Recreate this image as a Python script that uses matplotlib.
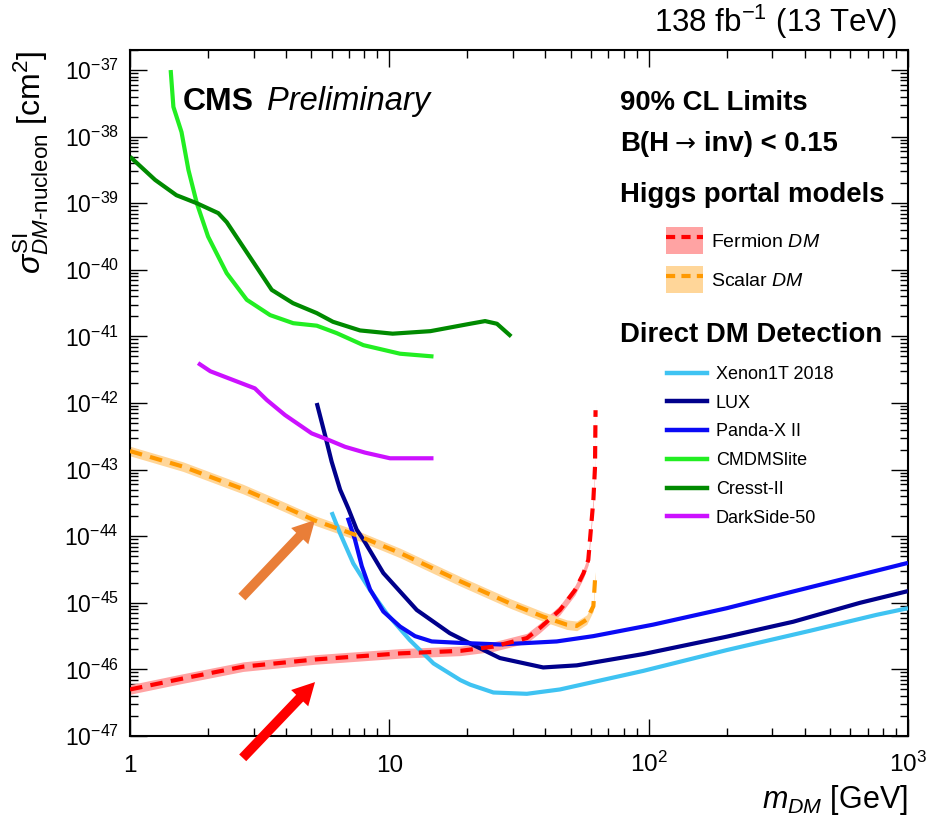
import numpy as np
import matplotlib
matplotlib.use("Agg")
import matplotlib.pyplot as plt
from matplotlib.lines import Line2D
from matplotlib.patches import Patch
from matplotlib.ticker import LogLocator, FuncFormatter, NullFormatter

plt.rcParams['font.family'] = ['Liberation Sans', 'DejaVu Sans']
plt.rcParams['mathtext.fontset'] = 'custom'
plt.rcParams['mathtext.rm'] = 'Liberation Sans'
plt.rcParams['mathtext.it'] = 'Liberation Sans:italic'
plt.rcParams['mathtext.bf'] = 'Liberation Sans:bold'

# --- limits (mass in GeV, cross section in cm^2) ---
xenon_m = [5.99, 6.46, 7.26, 8.43, 9.77, 12.0, 14.8, 18.8, 20.5, 25.2, 33.9, 45.5, 95.3, 200, 419, 757, 1000]
xenon_xs = [2.3e-44, 1.1e-44, 3.9e-45, 1.55e-45, 6.9e-46, 2.75e-46, 1.23e-46, 6.9e-47, 5.9e-47,
            4.5e-47, 4.3e-47, 5.0e-47, 9.5e-47, 1.95e-46, 3.8e-46, 6.6e-46, 8.3e-46]

lux_m = [5.25, 5.65, 5.99, 6.46, 6.95, 7.48, 7.94, 9.48, 12.76, 17.1, 20.5, 26.7, 39.2, 52.8, 95.3, 200, 361, 653, 1000]
lux_xs = [1.0e-42, 3.3e-43, 1.32e-43, 5.0e-44, 2.6e-44, 1.26e-44, 8.9e-45, 2.8e-45, 7.8e-46, 3.5e-46,
          2.45e-46, 1.48e-46, 1.07e-46, 1.15e-46, 1.7e-46, 3.1e-46, 5.2e-46, 1.0e-45, 1.5e-45]

panda_m = [6.91, 7.37, 7.83, 8.43, 9.48, 11.0, 12.56, 14.57, 18.8, 26.7, 44.2, 61.2, 104, 200, 361, 653, 1000]
panda_xs = [1.9e-44, 8.9e-45, 3.55e-45, 1.58e-45, 7.4e-46, 4.4e-46, 3.16e-46, 2.63e-46, 2.5e-46,
            2.37e-46, 2.63e-46, 3.16e-46, 4.7e-46, 8.3e-46, 1.48e-45, 2.63e-45, 3.98e-45]

cdms_m = [1.435, 1.47, 1.58, 1.68, 1.81, 2.0, 2.36, 2.82, 3.47, 4.26, 5.25, 6.27, 7.94, 11.0, 14.8]
cdms_xs = [1.0e-37, 2.8e-38, 1.17e-38, 3.16e-39, 1.0e-39, 3.16e-40, 8.9e-41, 3.55e-41, 2.09e-41,
           1.58e-41, 1.45e-41, 1.12e-41, 7.4e-42, 5.5e-42, 5.0e-42]

cresst_m = [1.0, 1.25, 1.51, 1.81, 2.19, 2.36, 3.52, 4.25, 5.25, 6.06, 7.71, 10.3, 14.4, 20.5, 23.4, 26.0, 29.5]
cresst_xs = [5.0e-39, 2.24e-39, 1.32e-39, 1.0e-39, 7.1e-40, 5.2e-40, 5.0e-41, 3.16e-41, 2.24e-41,
             1.66e-41, 1.23e-41, 1.10e-41, 1.20e-41, 1.55e-41, 1.70e-41, 1.55e-41, 1.0e-41]

darkside_m = [1.83, 2.04, 3.03, 3.37, 3.96, 5.02, 5.82, 6.75, 8.06, 10.06, 14.8]
darkside_xs = [3.98e-42, 3.0e-42, 1.66e-42, 1.11e-42, 6.6e-43, 3.5e-43, 2.8e-43, 2.2e-43, 1.8e-43,
               1.48e-43, 1.48e-43]

scalar_m = [1.0, 1.6, 2.73, 3.9, 5.17, 7.71, 11.0, 18.8, 29.2, 39.2, 48.3, 52.8, 57.7, 61.2, 62.1, 62.3]
scalar_xs = [1.9e-43, 1.11e-43, 5.1e-44, 2.8e-44, 1.72e-44, 9.9e-45, 5.6e-45, 2.1e-45, 9.8e-46,
             6.2e-46, 4.7e-46, 4.5e-46, 5.6e-46, 8.9e-46, 2.2e-45, 2.5e-45]

fermion_m = [1.0, 1.6, 2.73, 5.17, 11.0, 18.8, 25.2, 33.9, 38.1, 45.5, 52.0, 56.0, 58.5, 61.2, 62.1, 62.4]
fermion_xs = [5.0e-47, 7.3e-47, 1.1e-46, 1.41e-46, 1.74e-46, 1.9e-46, 2.2e-46, 2.95e-46, 4.2e-46,
              7.8e-46, 1.55e-45, 2.75e-45, 4.4e-45, 3.5e-44, 1.1e-43, 7.8e-43]

band_factor = 1.18

direct = [
    ("Xenon1T 2018", xenon_m, xenon_xs, "#3FC3F2"),
    ("LUX", lux_m, lux_xs, "#00008B"),
    ("Panda-X II", panda_m, panda_xs, "#0A0AF5"),
    ("CMDMSlite", cdms_m, cdms_xs, "#22EE22"),
    ("Cresst-II", cresst_m, cresst_xs, "#008A00"),
    ("DarkSide-50", darkside_m, darkside_xs, "#CC11FF"),
]

W, H = 936, 822
fig = plt.figure(figsize=(W / 100, H / 100), dpi=100)
ax = fig.add_axes([130 / W, 1 - 736 / H, 778 / W, 686 / H])


def fx(px):
    return px / W


def fy(py):
    return 1 - py / H


# Higgs portal bands
ax.fill_between(fermion_m, np.array(fermion_xs) / band_factor, np.array(fermion_xs) * band_factor,
                color="#FFA3A3", lw=0, zorder=2)
ax.fill_between(scalar_m, np.array(scalar_xs) / band_factor, np.array(scalar_xs) * band_factor,
                color="#FFD699", lw=0, zorder=2)

handles_direct = []
for name, m, xs, col in direct:
    ax.plot(m, xs, color=col, lw=3, solid_capstyle='butt', zorder=3)
    handles_direct.append(Line2D([], [], color=col, lw=3.2, label=name))

ax.plot(fermion_m, fermion_xs, color="#FF0000", lw=3, dashes=(3, 2), zorder=4)
ax.plot(scalar_m, scalar_xs, color="#FF9900", lw=3, dashes=(3, 2), zorder=4)

ax.set_xscale('log')
ax.set_yscale('log')
ax.set_xlim(1, 1000)
ax.set_ylim(1e-47, 2e-37)

ax.set_yticks([10.0 ** k for k in range(-47, -36)])
ax.yaxis.set_minor_locator(LogLocator(base=10, subs=np.arange(2, 10), numticks=200))
ax.yaxis.set_minor_formatter(NullFormatter())
ax.set_xticks([1, 10, 100, 1000])
ax.xaxis.set_minor_locator(LogLocator(base=10, subs=np.arange(2, 10), numticks=100))
ax.xaxis.set_minor_formatter(NullFormatter())


def xfmt(v, pos):
    n = int(round(np.log10(v)))
    if n == 0:
        return "1"
    if n == 1:
        return "10"
    return r"$\mathdefault{10^{%d}}$" % n


ax.xaxis.set_major_formatter(FuncFormatter(xfmt))

ax.tick_params(which='both', direction='in', top=True, right=True, width=1)
ax.tick_params(which='major', length=12)
ax.tick_params(which='minor', length=6)
ax.tick_params(axis='y', labelsize=16.5, pad=8)
ax.tick_params(axis='x', labelsize=17.5, pad=26)
for lab in ax.get_xticklabels():
    lab.set_va('baseline')
for s in ax.spines.values():
    s.set_linewidth(1.5)

ax.set_xlabel(r"$m_{DM}$ [GeV]", fontsize=22, loc='right', labelpad=4)
ax.set_ylabel(r"$\sigma^{\mathrm{SI}}_{DM\mathrm{\text{-}nucleon}}$ [cm$^{2}$]", fontsize=23,
              loc='top', labelpad=10)

# arrows pointing at the two Higgs portal curves
ax.annotate('', xy=(5.17, 1.75e-44), xytext=(2.70, 1.22e-45), annotation_clip=False,
            arrowprops=dict(arrowstyle='simple,head_length=0.8,head_width=0.85,tail_width=0.35',
                            color='#E97E38', mutation_scale=20, shrinkA=0, shrinkB=0, lw=0))
ax.annotate('', xy=(5.17, 6.45e-47), xytext=(2.72, 4.7e-48), annotation_clip=False,
            arrowprops=dict(arrowstyle='simple,head_length=0.8,head_width=0.85,tail_width=0.35',
                            color='#FF0000', mutation_scale=20, shrinkA=0, shrinkB=0, lw=0))

# texts
fig.text(fx(897), fy(32), r"138 fb$^{-1}$ (13 TeV)", fontsize=22.5, ha='right', va='baseline')
fig.text(fx(183), fy(110), "CMS", fontsize=23, fontweight='bold', ha='left', va='baseline')
fig.text(fx(267), fy(110), "Preliminary", fontsize=23.5, style='italic', ha='left', va='baseline')

hdr = dict(fontsize=19.8, fontweight='bold', va='baseline', ha='left')
fig.text(fx(620), fy(110), "90% CL Limits", **hdr)
fig.text(fx(620), fy(151), "B(H", **hdr)
fig.text(fx(675), fy(151), "\u2192", family='DejaVu Sans', fontsize=18, va='baseline', ha='left')
fig.text(fx(704), fy(151), "inv) < 0.15", **hdr)
fig.text(fx(620), fy(202), "Higgs portal models", **hdr)
fig.text(fx(620), fy(342), "Direct DM Detection", **hdr)

h_fermion = (Patch(facecolor="#FFA3A3", edgecolor='none'),
             Line2D([], [], color="#FF0000", lw=3, dashes=(2.2, 1.5)))
h_scalar = (Patch(facecolor="#FFD699", edgecolor='none'),
            Line2D([], [], color="#FF9900", lw=3, dashes=(2.2, 1.5)))
leg1 = ax.legend([h_fermion, h_scalar], [r"Fermion $DM$", r"Scalar $DM$"],
                 loc='upper left', bbox_to_anchor=(fx(666), fy(227)), bbox_transform=fig.transFigure,
                 frameon=False, fontsize=14, borderpad=0, borderaxespad=0,
                 handlelength=1.9, handleheight=1.76, handletextpad=0.4, labelspacing=0.62)
ax.add_artist(leg1)
ax.legend(handles=handles_direct, loc='upper left', bbox_to_anchor=(fx(667), fy(366)),
          bbox_transform=fig.transFigure, frameon=False, fontsize=13, borderpad=0, borderaxespad=0,
          handlelength=2.2, handletextpad=0.5, labelspacing=0.65)

fig.savefig("out.png", dpi=100)
